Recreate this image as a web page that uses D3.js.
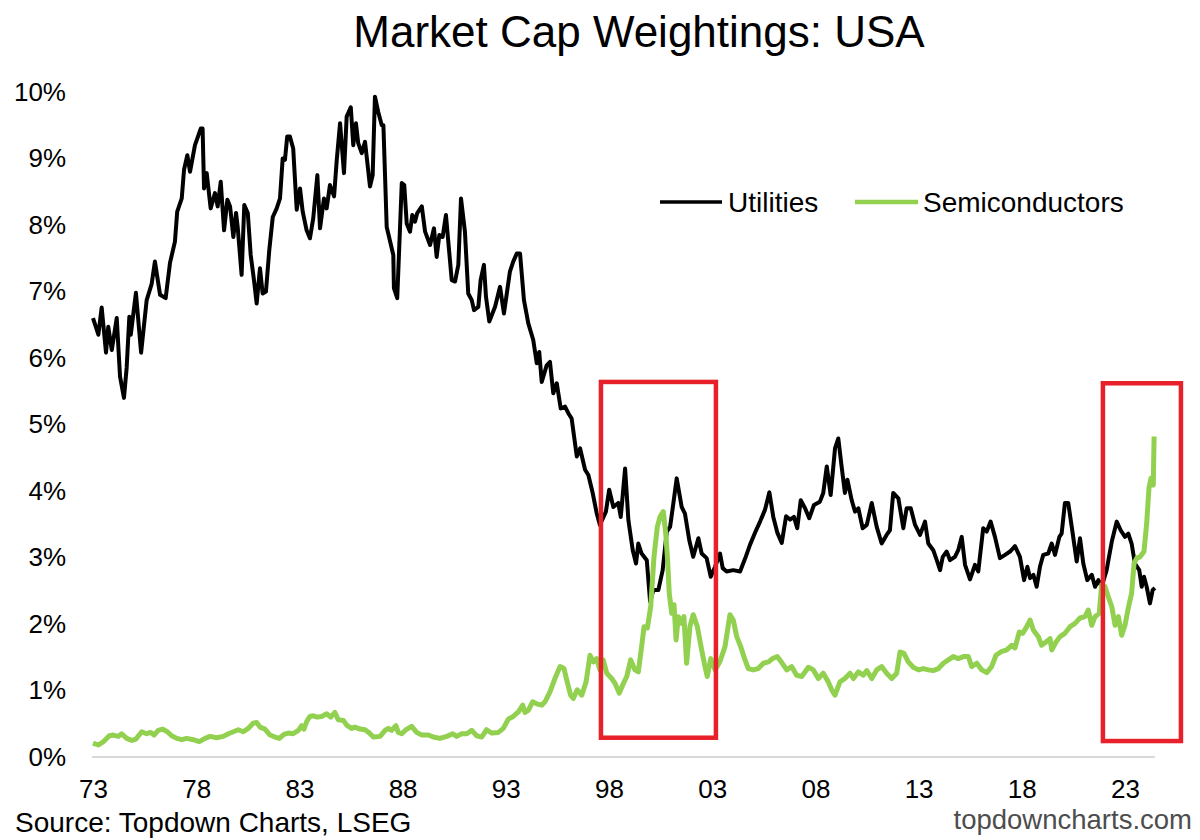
<!DOCTYPE html>
<html>
<head>
<meta charset="utf-8">
<script src="https://cdn.jsdelivr.net/npm/d3@7"></script>
<style>
  body { margin: 0; background: #fff; }
  svg text { font-family: "Liberation Sans", Arial, sans-serif; }
</style>
</head>
<body>
<div id="chart"></div>
<script>
// Chart data, [decimal year, % of market cap]
var utilities = [
  [1973.00, 6.60], [1973.26, 6.35], [1973.42, 6.76], [1973.63, 6.08], [1973.74, 6.47], [1973.91, 6.12],
  [1974.15, 6.60], [1974.31, 5.72], [1974.50, 5.40], [1974.63, 5.85], [1974.76, 6.62], [1974.83, 6.35],
  [1975.08, 6.98], [1975.33, 6.08], [1975.60, 6.87], [1975.84, 7.11], [1976.00, 7.45], [1976.25, 6.95],
  [1976.52, 6.90], [1976.73, 7.43], [1976.97, 7.75], [1977.08, 8.20], [1977.30, 8.40], [1977.41, 8.83],
  [1977.57, 9.05], [1977.70, 8.80], [1977.94, 9.20], [1978.22, 9.45], [1978.31, 9.45], [1978.38, 8.55],
  [1978.51, 8.78], [1978.70, 8.25], [1978.91, 8.48], [1979.04, 8.28], [1979.19, 8.65], [1979.35, 7.92],
  [1979.51, 8.38], [1979.64, 8.28], [1979.80, 7.82], [1979.93, 8.18], [1980.01, 7.97], [1980.20, 7.25],
  [1980.33, 8.30], [1980.50, 8.18], [1980.64, 7.55], [1980.80, 7.17], [1980.93, 6.82], [1981.09, 7.35],
  [1981.22, 6.97], [1981.38, 7.00], [1981.54, 7.62], [1981.71, 8.12], [1981.90, 8.25], [1982.06, 8.40],
  [1982.19, 9.00], [1982.30, 8.98], [1982.41, 9.33], [1982.54, 9.33], [1982.70, 9.15], [1982.87, 8.23],
  [1983.03, 8.55], [1983.16, 8.20], [1983.35, 7.92], [1983.51, 7.80], [1983.67, 8.10], [1983.87, 8.75],
  [1984.00, 7.95], [1984.19, 8.40], [1984.32, 8.25], [1984.48, 8.60], [1984.68, 8.43], [1984.81, 8.98],
  [1984.97, 9.53], [1985.16, 8.78], [1985.29, 9.63], [1985.49, 9.77], [1985.61, 9.20], [1985.74, 9.53],
  [1985.85, 9.23], [1986.02, 9.08], [1986.18, 9.25], [1986.42, 8.58], [1986.55, 8.75], [1986.66, 9.93],
  [1986.82, 9.70], [1986.99, 9.50], [1987.07, 9.50], [1987.23, 7.97], [1987.55, 7.55], [1987.58, 7.05],
  [1987.74, 6.90], [1987.96, 8.63], [1988.08, 8.60], [1988.20, 8.02], [1988.36, 7.90], [1988.47, 8.15],
  [1988.60, 8.05], [1988.71, 8.18], [1988.93, 8.28], [1989.09, 7.90], [1989.33, 7.70], [1989.52, 7.95],
  [1989.65, 7.52], [1989.78, 7.85], [1989.94, 7.82], [1990.10, 8.15], [1990.38, 7.17], [1990.54, 7.15],
  [1990.70, 7.40], [1990.83, 8.40], [1991.02, 7.90], [1991.18, 6.97], [1991.35, 6.87], [1991.46, 6.72],
  [1991.67, 6.77], [1991.78, 7.17], [1991.94, 7.40], [1992.04, 6.92], [1992.20, 6.55], [1992.48, 6.77],
  [1992.72, 7.07], [1992.91, 6.67], [1993.20, 7.30], [1993.36, 7.45], [1993.53, 7.57], [1993.69, 7.57],
  [1993.88, 6.87], [1994.09, 6.52], [1994.33, 6.27], [1994.50, 5.92], [1994.62, 6.09], [1994.74, 5.64],
  [1994.98, 5.89], [1995.14, 5.94], [1995.30, 5.47], [1995.47, 5.62], [1995.66, 5.24], [1995.87, 5.27],
  [1996.03, 5.17], [1996.19, 5.09], [1996.44, 4.52], [1996.60, 4.64], [1996.84, 4.32], [1997.00, 4.24],
  [1997.21, 3.97], [1997.40, 3.67], [1997.56, 3.49], [1997.85, 3.69], [1998.01, 4.02], [1998.21, 3.76],
  [1998.45, 3.82], [1998.57, 3.61], [1998.78, 4.34], [1998.94, 3.56], [1999.15, 3.11], [1999.31, 2.91],
  [1999.42, 3.21], [1999.58, 3.06], [1999.83, 2.96], [1999.99, 2.34], [2000.15, 2.51], [2000.39, 2.51],
  [2000.60, 2.81], [2000.80, 3.39], [2000.96, 3.46], [2001.12, 3.82], [2001.28, 4.19], [2001.52, 3.76],
  [2001.68, 3.66], [2001.89, 3.26], [2002.08, 3.01], [2002.33, 3.29], [2002.49, 3.06], [2002.73, 2.99],
  [2002.93, 2.71], [2003.14, 2.86], [2003.38, 3.06], [2003.51, 2.84], [2003.70, 2.79], [2004.02, 2.81],
  [2004.35, 2.79], [2004.59, 2.98], [2004.83, 3.19], [2005.07, 3.37], [2005.32, 3.54], [2005.56, 3.72],
  [2005.77, 3.98], [2005.96, 3.61], [2006.16, 3.37], [2006.37, 3.22], [2006.58, 3.62], [2006.77, 3.57],
  [2006.96, 3.61], [2007.12, 3.44], [2007.29, 3.86], [2007.50, 3.74], [2007.70, 3.59], [2007.93, 3.79],
  [2008.22, 3.84], [2008.38, 3.97], [2008.55, 4.37], [2008.74, 3.94], [2008.95, 4.64], [2009.11, 4.79],
  [2009.27, 4.37], [2009.43, 3.97], [2009.55, 4.17], [2009.76, 3.86], [2009.92, 3.69], [2010.08, 3.74],
  [2010.29, 3.44], [2010.49, 3.49], [2010.73, 3.82], [2010.97, 3.46], [2011.21, 3.21], [2011.45, 3.34],
  [2011.61, 3.41], [2011.77, 3.97], [2012.02, 3.89], [2012.26, 3.44], [2012.42, 3.74], [2012.62, 3.74],
  [2012.83, 3.49], [2013.07, 3.34], [2013.31, 3.54], [2013.47, 3.21], [2013.71, 3.11], [2013.88, 2.96],
  [2014.04, 2.81], [2014.17, 3.01], [2014.36, 3.09], [2014.52, 2.96], [2014.76, 3.01], [2014.92, 3.11],
  [2015.09, 3.31], [2015.25, 2.89], [2015.49, 2.67], [2015.73, 2.89], [2015.89, 2.79], [2016.13, 3.44],
  [2016.30, 3.39], [2016.49, 3.54], [2016.70, 3.31], [2016.94, 2.99], [2017.19, 3.04], [2017.43, 3.09],
  [2017.67, 3.17], [2017.91, 3.01], [2018.11, 2.66], [2018.27, 2.86], [2018.40, 2.69], [2018.56, 2.74],
  [2018.72, 2.56], [2018.88, 2.86], [2019.04, 3.04], [2019.28, 3.06], [2019.45, 3.21], [2019.61, 3.04],
  [2019.82, 3.31], [2019.93, 3.36], [2020.09, 3.82], [2020.25, 3.82], [2020.42, 3.46], [2020.66, 2.94],
  [2020.82, 3.29], [2020.98, 2.91], [2021.17, 2.66], [2021.39, 2.74], [2021.55, 2.56], [2021.71, 2.66],
  [2021.87, 2.56], [2022.11, 2.81], [2022.36, 3.24], [2022.60, 3.54], [2022.79, 3.41], [2023.00, 3.31],
  [2023.16, 3.36], [2023.32, 3.21], [2023.48, 2.91], [2023.69, 2.81], [2023.81, 2.56], [2023.92, 2.71],
  [2024.05, 2.56], [2024.21, 2.31], [2024.34, 2.51], [2024.45, 2.54]
];

var semiconductors = [
  [1973.00, 0.21], [1973.26, 0.18], [1973.50, 0.23], [1973.79, 0.32], [1973.98, 0.33], [1974.23, 0.31],
  [1974.39, 0.35], [1974.63, 0.28], [1974.88, 0.25], [1975.08, 0.27], [1975.36, 0.38], [1975.60, 0.35],
  [1975.80, 0.37], [1975.96, 0.33], [1976.16, 0.40], [1976.38, 0.42], [1976.60, 0.38], [1976.81, 0.32],
  [1977.06, 0.28], [1977.30, 0.26], [1977.54, 0.28], [1977.86, 0.26], [1978.15, 0.23], [1978.43, 0.28],
  [1978.67, 0.31], [1978.99, 0.29], [1979.31, 0.31], [1979.56, 0.35], [1979.80, 0.38], [1980.04, 0.41],
  [1980.28, 0.38], [1980.52, 0.43], [1980.77, 0.51], [1980.93, 0.52], [1981.09, 0.45], [1981.33, 0.42],
  [1981.58, 0.33], [1981.82, 0.30], [1982.03, 0.28], [1982.25, 0.34], [1982.46, 0.36], [1982.70, 0.35],
  [1982.95, 0.40], [1983.11, 0.47], [1983.22, 0.42], [1983.35, 0.53], [1983.51, 0.61], [1983.67, 0.62],
  [1983.87, 0.60], [1984.08, 0.61], [1984.32, 0.65], [1984.52, 0.60], [1984.72, 0.67], [1984.88, 0.56],
  [1985.13, 0.55], [1985.29, 0.48], [1985.53, 0.43], [1985.69, 0.45], [1985.94, 0.42], [1986.18, 0.41],
  [1986.39, 0.36], [1986.58, 0.30], [1986.91, 0.31], [1987.15, 0.40], [1987.31, 0.43], [1987.47, 0.40],
  [1987.68, 0.47], [1987.79, 0.37], [1987.96, 0.35], [1988.16, 0.41], [1988.44, 0.46], [1988.68, 0.37],
  [1988.93, 0.33], [1989.25, 0.33], [1989.49, 0.30], [1989.81, 0.28], [1990.14, 0.31], [1990.43, 0.35],
  [1990.62, 0.31], [1990.86, 0.35], [1991.11, 0.35], [1991.35, 0.40], [1991.59, 0.32], [1991.83, 0.30],
  [1992.07, 0.41], [1992.32, 0.36], [1992.64, 0.37], [1992.88, 0.43], [1993.12, 0.57], [1993.36, 0.61],
  [1993.61, 0.68], [1993.82, 0.78], [1993.93, 0.67], [1994.09, 0.70], [1994.30, 0.83], [1994.50, 0.80],
  [1994.74, 0.78], [1994.90, 0.83], [1995.14, 0.98], [1995.38, 1.18], [1995.63, 1.36], [1995.82, 1.33],
  [1995.95, 1.16], [1996.14, 0.93], [1996.27, 0.88], [1996.46, 1.01], [1996.68, 0.93], [1996.89, 1.13],
  [1997.08, 1.53], [1997.24, 1.43], [1997.40, 1.48], [1997.56, 1.31], [1997.72, 1.46], [1997.89, 1.26],
  [1998.13, 1.18], [1998.29, 1.11], [1998.50, 0.96], [1998.66, 1.08], [1998.86, 1.21], [1999.05, 1.46],
  [1999.26, 1.31], [1999.42, 1.28], [1999.58, 1.66], [1999.70, 1.96], [1999.86, 1.94], [2000.02, 2.26],
  [2000.18, 3.01], [2000.34, 3.46], [2000.47, 3.61], [2000.63, 3.69], [2000.75, 3.36], [2000.84, 2.96],
  [2000.92, 2.46], [2001.04, 2.16], [2001.15, 2.29], [2001.25, 1.76], [2001.36, 2.11], [2001.52, 2.01],
  [2001.63, 2.11], [2001.76, 1.41], [2001.92, 1.96], [2002.08, 2.14], [2002.28, 1.96], [2002.49, 1.61],
  [2002.65, 1.36], [2002.76, 1.21], [2002.93, 1.48], [2003.14, 1.31], [2003.38, 1.44], [2003.62, 1.66],
  [2003.86, 2.14], [2004.02, 2.06], [2004.19, 1.81], [2004.38, 1.66], [2004.59, 1.46], [2004.75, 1.33],
  [2004.99, 1.31], [2005.23, 1.33], [2005.48, 1.41], [2005.72, 1.43], [2005.93, 1.48], [2006.15, 1.51],
  [2006.37, 1.42], [2006.61, 1.31], [2006.85, 1.36], [2007.09, 1.23], [2007.34, 1.21], [2007.66, 1.35],
  [2007.90, 1.31], [2008.14, 1.18], [2008.38, 1.26], [2008.62, 1.13], [2008.79, 1.01], [2008.95, 0.93],
  [2009.19, 1.13], [2009.43, 1.18], [2009.68, 1.26], [2009.84, 1.18], [2010.08, 1.28], [2010.32, 1.23],
  [2010.49, 1.30], [2010.73, 1.18], [2010.97, 1.31], [2011.21, 1.36], [2011.45, 1.26], [2011.70, 1.18],
  [2011.94, 1.26], [2012.10, 1.58], [2012.29, 1.56], [2012.50, 1.43], [2012.74, 1.35], [2012.99, 1.31],
  [2013.23, 1.33], [2013.47, 1.31], [2013.71, 1.30], [2013.96, 1.33], [2014.20, 1.41], [2014.44, 1.46],
  [2014.68, 1.51], [2014.92, 1.48], [2015.17, 1.51], [2015.41, 1.51], [2015.57, 1.36], [2015.82, 1.41],
  [2016.06, 1.31], [2016.30, 1.27], [2016.54, 1.36], [2016.75, 1.53], [2016.98, 1.58], [2017.27, 1.61],
  [2017.51, 1.68], [2017.67, 1.64], [2017.88, 1.88], [2018.04, 1.86], [2018.24, 1.96], [2018.40, 2.06],
  [2018.56, 1.91], [2018.80, 1.81], [2018.96, 1.68], [2019.17, 1.73], [2019.37, 1.78], [2019.45, 1.61],
  [2019.66, 1.73], [2019.85, 1.81], [2020.09, 1.86], [2020.34, 1.96], [2020.58, 2.01], [2020.82, 2.09],
  [2021.06, 2.11], [2021.22, 2.21], [2021.39, 1.98], [2021.55, 2.11], [2021.75, 2.16], [2021.87, 2.59],
  [2022.03, 2.56], [2022.19, 2.41], [2022.36, 2.26], [2022.52, 1.98], [2022.68, 2.11], [2022.84, 1.83],
  [2023.00, 1.98], [2023.16, 2.24], [2023.32, 2.46], [2023.44, 2.91], [2023.57, 2.99], [2023.73, 3.01],
  [2023.92, 3.09], [2024.05, 3.51], [2024.16, 4.04], [2024.26, 4.19], [2024.37, 4.09], [2024.41, 4.82]
];

var yTicks = [0, 1, 2, 3, 4, 5, 6, 7, 8, 9, 10];
var xTickYears = [1973, 1978, 1983, 1988, 1993, 1998, 2003, 2008, 2013, 2018, 2023];
var xTickLabels = ["73", "78", "83", "88", "93", "98", "03", "08", "13", "18", "23"];

// highlight boxes: [fromYear, toYear, bottom %, top %]
var highlightBoxes = [
  [1997.61, 2003.18, 0.29, 5.64],
  [2021.93, 2025.71, 0.24, 5.62]
];

var seriesNames = ["Utilities", "Semiconductors"];
var seriesColors = ["#000000", "#92d050"];

// Chart Params
var svgWidth = 1200;
var svgHeight = 840;

var svg = d3.select("#chart")
  .append("svg")
  .attr("width", svgWidth)
  .attr("height", svgHeight);

// scales
var xScale = d3.scaleLinear()
  .domain([1973, 2023])
  .range([93, 1125]);

var yScale = d3.scaleLinear()
  .domain([0, 10])
  .range([757, 92]);

// title
svg.append("text")
  .attr("x", 639)
  .attr("y", 47)
  .attr("text-anchor", "middle")
  .style("font-size", "44px")
  .style("fill", "#000")
  .text("Market Cap Weightings: USA");

// x axis base line
var lastYear = d3.max(utilities, d => d[0]);
svg.append("line")
  .attr("x1", xScale(1973) - 1)
  .attr("x2", xScale(lastYear))
  .attr("y1", yScale(0))
  .attr("y2", yScale(0))
  .attr("stroke", "#d9d9d9")
  .attr("stroke-width", 2);

// y axis labels
var leftAxis = d3.axisLeft(yScale)
  .tickValues(yTicks)
  .tickSize(0)
  .tickPadding(10)
  .tickFormat(d => d + "%");

var yAxisGroup = svg.append("g")
  .attr("transform", "translate(76, 0)")
  .call(leftAxis);
yAxisGroup.select(".domain").remove();
yAxisGroup.selectAll("text")
  .style("font-size", "26px")
  .style("font-family", "'Liberation Sans', Arial, sans-serif")
  .style("fill", "#000");

// x axis labels
var bottomAxis = d3.axisBottom(xScale)
  .tickValues(xTickYears)
  .tickSize(0)
  .tickPadding(23)
  .tickFormat((d, i) => xTickLabels[i]);

var xAxisGroup = svg.append("g")
  .attr("transform", `translate(0, ${yScale(0)})`)
  .call(bottomAxis);
xAxisGroup.select(".domain").remove();
xAxisGroup.selectAll("text")
  .style("font-size", "26px")
  .style("font-family", "'Liberation Sans', Arial, sans-serif")
  .style("fill", "#000");

// lines
var lineGen = d3.line()
  .x(d => xScale(d[0]))
  .y(d => yScale(d[1]));

svg.append("path")
  .datum(utilities)
  .attr("d", lineGen)
  .attr("fill", "none")
  .attr("stroke", seriesColors[0])
  .attr("stroke-width", 4)
  .attr("stroke-linejoin", "round");

svg.append("path")
  .datum(semiconductors)
  .attr("d", lineGen)
  .attr("fill", "none")
  .attr("stroke", seriesColors[1])
  .attr("stroke-width", 5)
  .attr("stroke-linejoin", "round");

// red highlight boxes
svg.selectAll(".hbox")
  .data(highlightBoxes)
  .enter()
  .append("rect")
  .attr("class", "hbox")
  .attr("x", d => xScale(d[0]))
  .attr("y", d => yScale(d[3]))
  .attr("width", d => xScale(d[1]) - xScale(d[0]))
  .attr("height", d => yScale(d[2]) - yScale(d[3]))
  .attr("fill", "none")
  .attr("stroke", "#e8202a")
  .attr("stroke-width", 4.5);

// legend
var legendItems = [
  { x1: 660, x2: 722, tx: 728, w: 3.5 },
  { x1: 855, x2: 918, tx: 923, w: 4.5 }
];
var legend = svg.append("g");
legendItems.forEach(function(item, i) {
  legend.append("line")
    .attr("x1", item.x1)
    .attr("x2", item.x2)
    .attr("y1", 202)
    .attr("y2", 202)
    .attr("stroke", seriesColors[i])
    .attr("stroke-width", item.w);
  legend.append("text")
    .attr("x", item.tx)
    .attr("y", 212)
    .style("font-size", "28px")
    .style("fill", "#000")
    .text(seriesNames[i]);
});

// footer
svg.append("text")
  .attr("x", 15)
  .attr("y", 832)
  .style("font-size", "28px")
  .style("fill", "#000")
  .text("Source: Topdown Charts, LSEG");

svg.append("text")
  .attr("x", 1192)
  .attr("y", 829)
  .attr("text-anchor", "end")
  .style("font-size", "27.5px")
  .style("fill", "#4d4d4d")
  .text("topdowncharts.com");
</script>
</body>
</html>
